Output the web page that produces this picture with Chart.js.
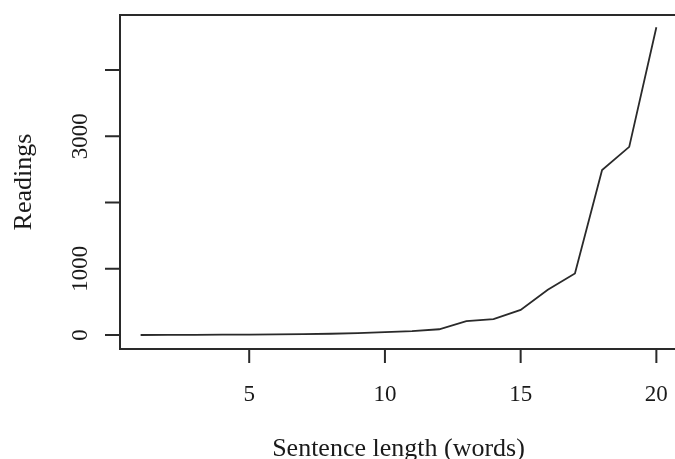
<!DOCTYPE html>
<html lang="en">
  <head>
    <meta charset="utf-8" />
    <title>Readings by sentence length</title>
    <style>
      * {
        margin: 0;
        padding: 0;
      }
      body {
        background: white;
        overflow: hidden;
        width: 675px;
        height: 459px;
      }
      #myChart {
        display: block;
      }
    </style>
  </head>
  <body>
    <canvas id="myChart" width="680" height="459"></canvas>

    <script src="https://cdn.jsdelivr.net/npm/chart.js"></script>

    <script>
      const sentenceLengths = [1, 2, 3, 4, 5, 6, 7, 8, 9, 10, 11, 12, 13, 14, 15, 16, 17, 18, 19, 20];
      const readings = [1, 2, 4, 6, 8, 10, 15, 20, 30, 45, 60, 88, 211, 241, 380, 685, 930, 2490, 2840, 4645];

      const xTickValues = [5, 10, 15, 20];
      const xTickLabels = ["5", "10", "15", "20"];
      const yTickValues = [0, 1000, 2000, 3000, 4000];
      // R drops the labels that would overlap
      const yTickLabels = ["0", "1000", "", "3000", ""];

      const xTitle = "Sentence length (words)";
      const yTitle = "Readings";

      const serif = "'Liberation Serif', 'DejaVu Serif', serif";

      const rAxes = {
        id: "rAxes",
        afterDraw(chart) {
          const {
            ctx,
            chartArea: { left, right, top, bottom },
            scales: { x, y },
          } = chart;

          ctx.save();
          ctx.strokeStyle = "#2a2a2a";
          ctx.lineWidth = 2;
          ctx.strokeRect(left, top, right - left, bottom - top);

          // x axis line + ticks
          ctx.beginPath();
          ctx.moveTo(x.getPixelForValue(xTickValues[0]), bottom);
          ctx.lineTo(x.getPixelForValue(xTickValues[xTickValues.length - 1]), bottom);
          xTickValues.forEach((v) => {
            const px = x.getPixelForValue(v);
            ctx.moveTo(px, bottom);
            ctx.lineTo(px, bottom + 14);
          });
          // y ticks
          yTickValues.forEach((v) => {
            const py = y.getPixelForValue(v);
            ctx.moveTo(left, py);
            ctx.lineTo(left - 15, py);
          });
          ctx.stroke();

          ctx.fillStyle = "#1a1a1a";
          ctx.font = "23px " + serif;
          ctx.textAlign = "center";
          ctx.textBaseline = "alphabetic";
          xTickValues.forEach((v, i) => {
            ctx.fillText(xTickLabels[i], x.getPixelForValue(v), 401);
          });

          yTickValues.forEach((v, i) => {
            if (!yTickLabels[i]) return;
            ctx.save();
            ctx.translate(87, y.getPixelForValue(v));
            ctx.rotate(-Math.PI / 2);
            ctx.fillText(yTickLabels[i], 0, 0);
            ctx.restore();
          });

          ctx.font = "26px " + serif;
          ctx.fillText(xTitle, (left + right) / 2, 456);

          ctx.save();
          ctx.translate(31, (top + bottom) / 2);
          ctx.rotate(-Math.PI / 2);
          ctx.fillText(yTitle, 0, 0);
          ctx.restore();

          ctx.restore();
        },
      };

      const data = {
        datasets: [
          {
            label: yTitle,
            data: sentenceLengths.map((len, i) => ({ x: len, y: readings[i] })),
            borderColor: "#2a2a2a",
            borderWidth: 1.8,
            pointRadius: 0,
            tension: 0,
            fill: false,
          },
        ],
      };

      const config = {
        type: "line",
        data: data,
        options: {
          responsive: false,
          animation: false,
          layout: {
            padding: { left: 120, top: 15, right: 3, bottom: 110 },
          },
          plugins: {
            legend: { display: false },
            tooltip: { enabled: false },
          },
          scales: {
            x: {
              type: "linear",
              min: 0.24,
              max: 20.76,
              display: false,
            },
            y: {
              min: -210,
              max: 4830,
              display: false,
            },
          },
        },
        plugins: [rAxes],
      };

      const myChart = new Chart(document.getElementById("myChart"), config);
    </script>
  </body>
</html>
